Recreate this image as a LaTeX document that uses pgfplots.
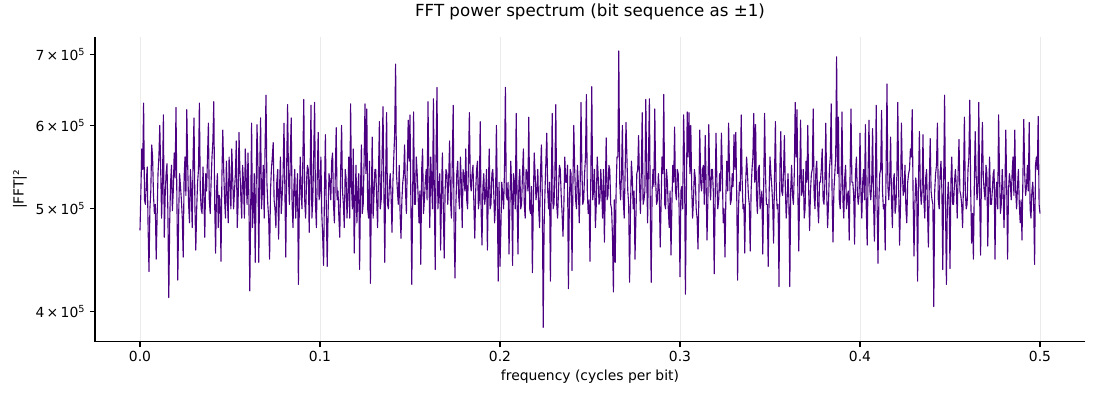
\documentclass[border=0pt]{standalone}
\usepackage{fontspec}
\setmainfont{DejaVu Sans}
\usepackage{pgfplots}
\usepackage{pgfplotstable}
\pgfplotsset{compat=1.18}
\definecolor{indigo}{HTML}{4B0082}
\definecolor{gridc}{HTML}{EBEBEB}
\pgfplotstableread[row sep=\\]{
p\\
477e3\\520e3\\570e3\\545e3\\630e3\\510e3\\505e3\\530e3\\548e3\\480e3\\436e3\\500e3\\520e3\\575e3\\560e3\\515e3\\495e3\\505e3\\448e3\\490e3\\540e3\\560e3\\600e3\\545e3\\490e3\\530e3\\614e3\\470e3\\515e3\\540e3\\552e3\\495e3\\412e3\\485e3\\530e3\\550e3\\498e3\\520e3\\565e3\\535e3\\
624e3\\510e3\\428e3\\495e3\\540e3\\525e3\\510e3\\490e3\\450e3\\535e3\\560e3\\515e3\\621e3\\550e3\\505e3\\485e3\\545e3\\520e3\\480e3\\560e3\\610e3\\505e3\\457e3\\500e3\\530e3\\545e3\\630e3\\520e3\\500e3\\495e3\\548e3\\515e3\\470e3\\540e3\\520e3\\560e3\\603e3\\510e3\\495e3\\530e3\\
560e3\\580e3\\632e3\\505e3\\454e3\\520e3\\540e3\\480e3\\515e3\\510e3\\446e3\\535e3\\594e3\\545e3\\510e3\\490e3\\555e3\\515e3\\485e3\\560e3\\530e3\\500e3\\570e3\\535e3\\500e3\\520e3\\540e3\\580e3\\480e3\\505e3\\591e3\\545e3\\515e3\\490e3\\550e3\\530e3\\490e3\\570e3\\535e3\\505e3\\
565e3\\510e3\\418e3\\500e3\\603e3\\480e3\\500e3\\540e3\\445e3\\520e3\\601e3\\555e3\\445e3\\540e3\\610e3\\500e3\\520e3\\550e3\\490e3\\575e3\\641e3\\530e3\\505e3\\490e3\\448e3\\520e3\\545e3\\560e3\\578e3\\510e3\\500e3\\480e3\\530e3\\545e3\\468e3\\520e3\\560e3\\495e3\\515e3\\540e3\\
603e3\\520e3\\450e3\\550e3\\628e3\\535e3\\505e3\\560e3\\610e3\\505e3\\480e3\\525e3\\545e3\\490e3\\515e3\\540e3\\424e3\\500e3\\560e3\\520e3\\500e3\\560e3\\635e3\\510e3\\490e3\\530e3\\550e3\\545e3\\475e3\\540e3\\627e3\\490e3\\510e3\\560e3\\631e3\\505e3\\480e3\\540e3\\591e3\\510e3\\
520e3\\560e3\\495e3\\470e3\\442e3\\520e3\\588e3\\500e3\\441e3\\495e3\\540e3\\530e3\\510e3\\555e3\\565e3\\505e3\\485e3\\540e3\\597e3\\510e3\\520e3\\490e3\\470e3\\545e3\\600e3\\520e3\\505e3\\480e3\\545e3\\535e3\\490e3\\515e3\\560e3\\490e3\\629e3\\525e3\\500e3\\570e3\\454e3\\505e3\\
550e3\\485e3\\520e3\\540e3\\438e3\\520e3\\575e3\\495e3\\505e3\\555e3\\629e3\\540e3\\622e3\\500e3\\490e3\\555e3\\425e3\\505e3\\585e3\\490e3\\515e3\\545e3\\545e3\\510e3\\480e3\\540e3\\605e3\\500e3\\510e3\\560e3\\625e3\\520e3\\445e3\\540e3\\617e3\\505e3\\500e3\\525e3\\540e3\\515e3\\
475e3\\530e3\\560e3\\590e3\\686e3\\540e3\\520e3\\505e3\\550e3\\495e3\\469e3\\510e3\\530e3\\540e3\\575e3\\520e3\\495e3\\550e3\\607e3\\555e3\\614e3\\505e3\\424e3\\520e3\\618e3\\505e3\\505e3\\560e3\\540e3\\515e3\\485e3\\520e3\\443e3\\545e3\\570e3\\495e3\\510e3\\530e3\\545e3\\510e3\\
632e3\\540e3\\480e3\\560e3\\530e3\\500e3\\636e3\\520e3\\438e3\\570e3\\652e3\\500e3\\520e3\\540e3\\457e3\\515e3\\565e3\\500e3\\449e3\\520e3\\545e3\\540e3\\505e3\\535e3\\580e3\\510e3\\490e3\\555e3\\627e3\\480e3\\430e3\\505e3\\540e3\\555e3\\515e3\\500e3\\560e3\\530e3\\480e3\\545e3\\
535e3\\520e3\\570e3\\510e3\\500e3\\555e3\\617e3\\530e3\\520e3\\540e3\\550e3\\505e3\\469e3\\520e3\\545e3\\555e3\\500e3\\510e3\\605e3\\500e3\\462e3\\525e3\\540e3\\505e3\\515e3\\545e3\\457e3\\520e3\\570e3\\500e3\\505e3\\540e3\\545e3\\520e3\\485e3\\505e3\\600e3\\515e3\\427e3\\530e3\\
441e3\\480e3\\530e3\\515e3\\500e3\\545e3\\652e3\\515e3\\510e3\\530e3\\453e3\\505e3\\555e3\\520e3\\442e3\\540e3\\530e3\\500e3\\616e3\\510e3\\453e3\\530e3\\545e3\\500e3\\505e3\\540e3\\570e3\\505e3\\490e3\\545e3\\540e3\\520e3\\611e3\\500e3\\495e3\\525e3\\435e3\\505e3\\565e3\\540e3\\
510e3\\520e3\\545e3\\500e3\\480e3\\540e3\\575e3\\515e3\\386e3\\480e3\\520e3\\555e3\\590e3\\520e3\\500e3\\530e3\\427e3\\520e3\\616e3\\500e3\\505e3\\540e3\\628e3\\505e3\\490e3\\520e3\\550e3\\545e3\\515e3\\495e3\\471e3\\505e3\\560e3\\530e3\\530e3\\550e3\\420e3\\500e3\\545e3\\540e3\\
437e3\\525e3\\600e3\\545e3\\510e3\\500e3\\550e3\\530e3\\485e3\\520e3\\631e3\\545e3\\505e3\\510e3\\540e3\\560e3\\642e3\\520e3\\495e3\\510e3\\446e3\\545e3\\653e3\\510e3\\520e3\\545e3\\480e3\\505e3\\560e3\\540e3\\505e3\\510e3\\545e3\\520e3\\490e3\\545e3\\465e3\\520e3\\584e3\\510e3\\
515e3\\550e3\\545e3\\505e3\\500e3\\470e3\\417e3\\510e3\\445e3\\520e3\\560e3\\560e3\\706e3\\530e3\\510e3\\540e3\\600e3\\510e3\\490e3\\540e3\\604e3\\560e3\\520e3\\505e3\\426e3\\500e3\\555e3\\535e3\\500e3\\520e3\\448e3\\490e3\\540e3\\545e3\\587e3\\530e3\\495e3\\540e3\\617e3\\505e3\\
510e3\\520e3\\635e3\\540e3\\485e3\\560e3\\636e3\\500e3\\426e3\\520e3\\545e3\\525e3\\622e3\\530e3\\505e3\\510e3\\540e3\\520e3\\460e3\\505e3\\560e3\\540e3\\642e3\\505e3\\500e3\\545e3\\530e3\\500e3\\480e3\\520e3\\452e3\\505e3\\550e3\\530e3\\598e3\\520e3\\510e3\\545e3\\540e3\\500e3\\
431e3\\520e3\\525e3\\500e3\\614e3\\560e3\\415e3\\505e3\\618e3\\560e3\\617e3\\540e3\\600e3\\525e3\\490e3\\510e3\\545e3\\535e3\\500e3\\490e3\\458e3\\515e3\\594e3\\530e3\\520e3\\545e3\\550e3\\505e3\\587e3\\530e3\\467e3\\510e3\\601e3\\535e3\\510e3\\545e3\\545e3\\520e3\\434e3\\505e3\\
590e3\\530e3\\500e3\\510e3\\540e3\\520e3\\590e3\\545e3\\485e3\\500e3\\450e3\\515e3\\555e3\\520e3\\603e3\\545e3\\505e3\\510e3\\540e3\\525e3\\588e3\\545e3\\591e3\\520e3\\428e3\\500e3\\530e3\\520e3\\614e3\\535e3\\500e3\\505e3\\454e3\\530e3\\560e3\\540e3\\515e3\\505e3\\456e3\\520e3\\
545e3\\560e3\\616e3\\530e3\\601e3\\515e3\\495e3\\545e3\\550e3\\500e3\\510e3\\520e3\\453e3\\525e3\\616e3\\540e3\\505e3\\505e3\\441e3\\515e3\\560e3\\540e3\\525e3\\505e3\\464e3\\535e3\\605e3\\520e3\\500e3\\505e3\\422e3\\545e3\\592e3\\520e3\\515e3\\540e3\\587e3\\525e3\\490e3\\510e3\\
540e3\\510e3\\422e3\\520e3\\550e3\\515e3\\505e3\\540e3\\631e3\\560e3\\621e3\\515e3\\456e3\\530e3\\607e3\\515e3\\520e3\\545e3\\490e3\\500e3\\555e3\\530e3\\600e3\\520e3\\477e3\\520e3\\540e3\\545e3\\622e3\\515e3\\500e3\\545e3\\555e3\\505e3\\485e3\\530e3\\530e3\\545e3\\570e3\\510e3\\
505e3\\530e3\\603e3\\520e3\\480e3\\505e3\\545e3\\560e3\\629e3\\515e3\\465e3\\520e3\\540e3\\560e3\\697e3\\540e3\\611e3\\510e3\\500e3\\530e3\\618e3\\510e3\\490e3\\535e3\\550e3\\500e3\\515e3\\520e3\\467e3\\540e3\\622e3\\530e3\\530e3\\515e3\\463e3\\540e3\\560e3\\520e3\\505e3\\515e3\\
590e3\\520e3\\490e3\\530e3\\545e3\\510e3\\601e3\\500e3\\462e3\\540e3\\607e3\\520e3\\510e3\\530e3\\596e3\\510e3\\466e3\\520e3\\627e3\\505e3\\444e3\\510e3\\540e3\\545e3\\620e3\\520e3\\500e3\\505e3\\457e3\\545e3\\657e3\\525e3\\510e3\\535e3\\585e3\\510e3\\480e3\\530e3\\540e3\\495e3\\
505e3\\540e3\\631e3\\520e3\\462e3\\505e3\\603e3\\545e3\\515e3\\520e3\\550e3\\500e3\\485e3\\530e3\\540e3\\545e3\\570e3\\560e3\\621e3\\515e3\\451e3\\505e3\\535e3\\520e3\\427e3\\530e3\\592e3\\525e3\\505e3\\520e3\\588e3\\510e3\\490e3\\535e3\\545e3\\500e3\\460e3\\530e3\\583e3\\520e3\\
510e3\\505e3\\404e3\\520e3\\540e3\\550e3\\603e3\\510e3\\500e3\\540e3\\555e3\\520e3\\438e3\\535e3\\641e3\\505e3\\424e3\\500e3\\530e3\\510e3\\439e3\\530e3\\560e3\\505e3\\505e3\\530e3\\545e3\\525e3\\490e3\\540e3\\582e3\\520e3\\515e3\\505e3\\480e3\\530e3\\611e3\\520e3\\500e3\\505e3\\
545e3\\560e3\\634e3\\520e3\\464e3\\495e3\\448e3\\525e3\\592e3\\540e3\\510e3\\520e3\\631e3\\510e3\\452e3\\545e3\\604e3\\535e3\\520e3\\510e3\\550e3\\540e3\\461e3\\520e3\\560e3\\505e3\\505e3\\520e3\\540e3\\545e3\\448e3\\520e3\\530e3\\500e3\\614e3\\540e3\\495e3\\505e3\\545e3\\520e3\\
480e3\\520e3\\594e3\\525e3\\448e3\\520e3\\540e3\\530e3\\510e3\\540e3\\560e3\\515e3\\594e3\\520e3\\500e3\\525e3\\545e3\\505e3\\485e3\\510e3\\467e3\\535e3\\608e3\\540e3\\515e3\\525e3\\550e3\\520e3\\604e3\\500e3\\490e3\\520e3\\530e3\\505e3\\443e3\\550e3\\560e3\\545e3\\612e3\\505e3\\
495e3\\
}\spec
\begin{document}
\begin{tikzpicture}
\path[use as bounding box] (-68.4pt,-41.76pt) rectangle (723.6pt,246.24pt);
\begin{axis}[
  at={(0,0)}, anchor=south west,
  scale only axis, width=712.8pt, height=219.6pt,
  font=\fontsize{10}{12}\selectfont,
  ymode=log,
  xmin=-0.025, xmax=0.525,
  ymin=374000, ymax=728000,
  axis x line*=bottom, axis y line*=left,
  axis line style={-, line width=0.8pt},
  tick align=outside,
  major tick length=3.5pt,
  tick style={line width=0.8pt, black},
  xtick={0,0.1,0.2,0.3,0.4,0.5},
  xticklabels={0.0,0.1,0.2,0.3,0.4,0.5},
  ytick={400000,500000,600000,700000},
  yticklabels={4\,×\,10\textsuperscript{5},5\,×\,10\textsuperscript{5},6\,×\,10\textsuperscript{5},7\,×\,10\textsuperscript{5}},
  yminorticks=false,
  /pgf/number format/assume math mode=true,
  xmajorgrids,
  major x grid style={gridc, line width=0.6pt},
  title={FFT power spectrum (bit sequence as ±1)},
  title style={font=\fontsize{12}{14}\selectfont, at={(axis description cs:0.5,1)}, anchor=south, inner sep=0pt, yshift=6pt},
  xlabel={frequency (cycles per bit)},
  xlabel style={at={(axis description cs:0.5,0)}, anchor=center, yshift=-25.2pt},
  ylabel={|FFT|²},
  ylabel style={at={(axis description cs:-0.0758,0.5)}, anchor=center},
]
\addplot[indigo, line width=0.8pt, line join=round, mark=none] table[x expr=\coordindex*0.0005, y=p] {\spec};
\end{axis}
\end{tikzpicture}
\end{document}
